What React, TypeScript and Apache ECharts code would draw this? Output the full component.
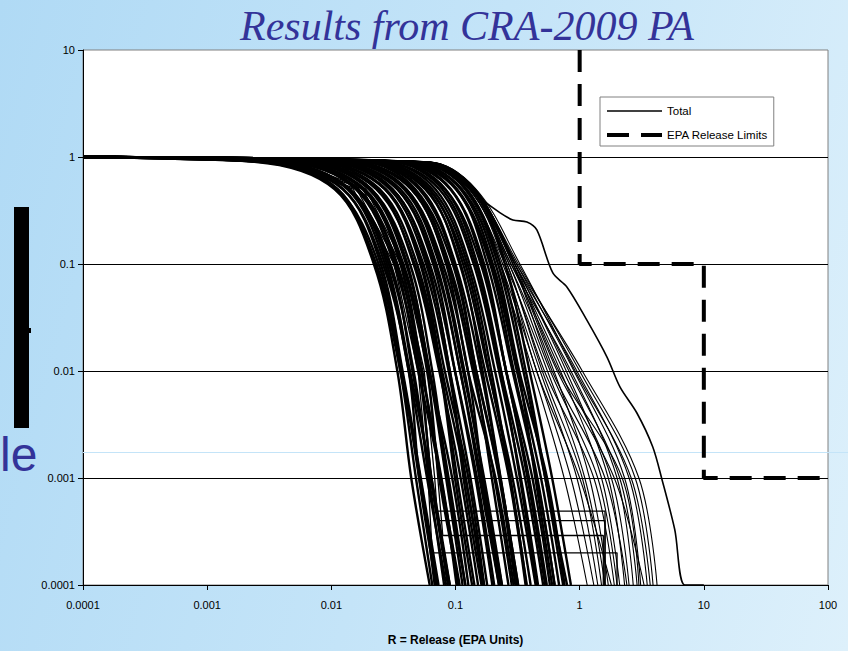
import React, { useEffect, useRef } from "react";
import * as echarts from "echarts";

const TITLE = "Results from CRA-2009 PA";
const X_AXIS_NAME = "R = Release (EPA Units)";
const X_TICK_LABELS = ["0.0001", "0.001", "0.01", "0.1", "1", "10", "100"];
const Y_TICK_LABELS = ["0.0001", "0.001", "0.01", "0.1", "1", "10"];
const LEGEND_TOTAL = "Total";
const LEGEND_EPA = "EPA Release Limits";
const SIDE_TEXT = "le";

// every realization starts at probability 1 at the left edge
const START_R = 0.0001;
// probability levels at which each CCDF's release is read
const PROB_LEVELS = [1, 0.9, 0.5, 0.1, 0.01, 0.001, 0.0001];

// release R where each realization crosses 0.9, 0.5, 0.1, 0.01, 0.001, 0.0001
const DENSE_CURVES = [
  [0.0024, 0.0106, 0.022, 0.034, 0.044, 0.062],
  [0.0028, 0.0108, 0.023, 0.037, 0.051, 0.071],
  [0.0028, 0.0123, 0.025, 0.0375, 0.0525, 0.073],
  [0.0034, 0.0125, 0.026, 0.042, 0.051, 0.07],
  [0.0034, 0.014, 0.028, 0.043, 0.064, 0.09],
  [0.0036, 0.0141, 0.03, 0.045, 0.063, 0.087],
  [0.0042, 0.0157, 0.032, 0.051, 0.064, 0.09],
  [0.0041, 0.0163, 0.034, 0.053, 0.077, 0.105],
  [0.005, 0.018, 0.036, 0.054, 0.076, 0.108],
  [0.0049, 0.0186, 0.038, 0.061, 0.084, 0.114],
  [0.0056, 0.02, 0.04, 0.062, 0.088, 0.12],
  [0.0065, 0.021, 0.043, 0.065, 0.086, 0.12],
  [0.006, 0.0235, 0.046, 0.074, 0.11, 0.152],
  [0.0074, 0.0245, 0.049, 0.076, 0.103, 0.142],
  [0.0083, 0.027, 0.052, 0.078, 0.12, 0.166],
  [0.0077, 0.027, 0.055, 0.088, 0.121, 0.17],
  [0.0093, 0.0296, 0.058, 0.09, 0.116, 0.162],
  [0.0093, 0.031, 0.062, 0.099, 0.149, 0.205],
  [0.0112, 0.034, 0.066, 0.099, 0.145, 0.198],
  [0.0112, 0.036, 0.07, 0.109, 0.161, 0.224],
  [0.0126, 0.0385, 0.074, 0.115, 0.17, 0.237],
  [0.0126, 0.04, 0.079, 0.126, 0.166, 0.229],
  [0.0151, 0.0445, 0.084, 0.126, 0.21, 0.294],
  [0.0151, 0.046, 0.089, 0.142, 0.196, 0.267],
  [0.018, 0.0475, 0.095, 0.147, 0.228, 0.314],
  [0.018, 0.053, 0.1, 0.16, 0.23, 0.32],
  [0.0187, 0.057, 0.11, 0.165, 0.231, 0.319],
  [0.022, 0.062, 0.115, 0.184, 0.288, 0.403],
  [0.0216, 0.061, 0.12, 0.186, 0.276, 0.372],
  [0.026, 0.069, 0.13, 0.208, 0.312, 0.442],
  [0.0266, 0.074, 0.14, 0.224, 0.336, 0.462],
  [0.0315, 0.0825, 0.15, 0.233, 0.33, 0.45],
  [0.032, 0.083, 0.16, 0.256, 0.416, 0.576],
  [0.0374, 0.092, 0.17, 0.255, 0.391, 0.544],
  [0.036, 0.101, 0.18, 0.288, 0.45, 0.63],
  [0.04, 0.101, 0.19, 0.295, 0.456, 0.627],
  [0.044, 0.11, 0.2, 0.32, 0.44, 0.6],
  [0.042, 0.113, 0.21, 0.326, 0.546, 0.756],
  [0.0506, 0.122, 0.23, 0.368, 0.529, 0.736],
  [0.0525, 0.1375, 0.25, 0.395, 0.6, 0.85],
  [0.0029, 0.0113, 0.0225, 0.036, 0.052, 0.068],
  [0.0026, 0.011, 0.024, 0.036, 0.048, 0.065],
  [0.0038, 0.0135, 0.027, 0.042, 0.059, 0.084],
  [0.0032, 0.0136, 0.029, 0.046, 0.061, 0.081],
  [0.0043, 0.0165, 0.033, 0.05, 0.076, 0.102],
  [0.0044, 0.0178, 0.037, 0.059, 0.074, 0.107],
  [0.0062, 0.0209, 0.041, 0.0615, 0.094, 0.127],
  [0.0066, 0.023, 0.047, 0.075, 0.099, 0.136],
  [0.008, 0.0275, 0.053, 0.082, 0.127, 0.17],
  [0.0102, 0.0312, 0.06, 0.09, 0.132, 0.18],
  [0.0102, 0.034, 0.068, 0.109, 0.156, 0.224],
  [0.0137, 0.0403, 0.076, 0.118, 0.167, 0.236],
  [0.0146, 0.0439, 0.086, 0.138, 0.206, 0.284],
  [0.0186, 0.051, 0.098, 0.147, 0.225, 0.304],
  [0.0194, 0.0583, 0.108, 0.173, 0.27, 0.367],
  [0.0238, 0.065, 0.125, 0.194, 0.275, 0.375],
  [0.0305, 0.0783, 0.145, 0.232, 0.363, 0.508],
  [0.033, 0.0908, 0.165, 0.256, 0.38, 0.528],
  [0.0429, 0.103, 0.195, 0.312, 0.488, 0.683],
  [0.0462, 0.121, 0.22, 0.352, 0.528, 0.792],
];

// realizations that fan out to larger releases in the tail
const FAN_CURVES = [
  [0.05, 0.118, 0.22, 0.42, 0.75, 1.15],
  [0.052, 0.125, 0.24, 0.48, 0.95, 1.4],
  [0.048, 0.12, 0.25, 0.55, 1.1, 1.6],
  [0.055, 0.13, 0.26, 0.52, 1.3, 1.9],
  [0.053, 0.128, 0.27, 0.62, 1.2, 1.7],
  [0.056, 0.135, 0.28, 0.7, 1.5, 2.1],
  [0.054, 0.132, 0.29, 0.6, 1.6, 2.4],
  [0.058, 0.14, 0.3, 0.78, 1.7, 2.3],
  [0.057, 0.138, 0.28, 0.85, 2.0, 2.7],
  [0.059, 0.142, 0.31, 0.9, 2.3, 3.1],
  [0.06, 0.145, 0.3, 0.95, 2.5, 3.5],
  [0.058, 0.14, 0.32, 1.0, 2.8, 3.9],
  [0.06, 0.143, 0.31, 1.05, 3.0, 4.2],
  [0.057, 0.137, 0.29, 0.66, 1.9, 3.3],
  [0.051, 0.122, 0.23, 0.45, 0.85, 1.3],
  [0.055, 0.133, 0.27, 0.58, 1.4, 2.0],
  [0.057, 0.139, 0.29, 0.74, 1.8, 2.5],
  [0.059, 0.141, 0.3, 0.82, 2.1, 2.9],
  [0.056, 0.134, 0.26, 0.5, 1.05, 1.5],
  [0.06, 0.146, 0.33, 0.92, 2.6, 3.7],
  [0.058, 0.14, 0.3, 0.68, 2.2, 3.0],
  [0.054, 0.13, 0.25, 0.45, 1.0, 1.8],
];

// realizations whose tail stays flat at a small probability before dropping
// R at 0.9, 0.5, 0.1, 0.01, 0.001 and where the flat step begins
const STEP_CURVES = [
  [0.004, 0.016, 0.034, 0.053, 0.064, 0.069],
  [0.0045, 0.018, 0.036, 0.056, 0.068, 0.072],
  [0.005, 0.019, 0.038, 0.06, 0.072, 0.079],
  [0.0038, 0.015, 0.032, 0.05, 0.06, 0.065],
];
const STEP_FLAT_P = [0.00049, 0.0004, 0.00029, 0.0002];
const STEP_END_R = [1.6, 1.6, 1.55, 2.0];

// the single realization well to the right of the bundle
const OUTLIER_R = [0.0001, 0.014, 0.052, 0.1, 0.158, 0.229, 0.29, 0.376, 0.452, 0.608, 0.789, 1.14, 1.66, 2.11, 2.89, 3.88, 4.59, 5.83, 7.03, 10];
const OUTLIER_P = [1, 0.95, 0.87, 0.68, 0.414, 0.3, 0.258, 0.247, 0.208, 0.0824, 0.061, 0.03, 0.0135, 0.0071, 0.00405, 0.00195, 0.00098, 0.00033, 0.0001, 0.0001];

// EPA release limits (step)
const EPA_R = [1, 1, 10, 10, 100];
const EPA_P = [10, 0.1, 0.1, 0.001, 0.001];

const SANS = '"Liberation Sans", Arial, sans-serif';

function levelCurve(row: number[]) {
  const pts: number[][] = [[START_R, PROB_LEVELS[0]]];
  row.forEach((r, i) => pts.push([r, PROB_LEVELS[i + 1]]));
  return pts;
}

function stepCurve(row: number[], flatP: number, endR: number) {
  const pts: number[][] = [[START_R, PROB_LEVELS[0]]];
  for (let i = 0; i < 5; i++) pts.push([row[i], PROB_LEVELS[i + 1]]);
  pts.push([row[5], flatP]);
  pts.push([endR, flatP]);
  pts.push([endR, PROB_LEVELS[PROB_LEVELS.length - 1]]);
  return pts;
}

function pairs(xs: number[], ys: number[]) {
  return xs.map((x, i) => [x, ys[i]]);
}

function curveSeries(name: string, data: number[][], width: number, smooth: number | boolean) {
  return {
    type: "line",
    name,
    data,
    symbol: "none",
    showSymbol: false,
    smooth,
    silent: true,
    clip: true,
    lineStyle: { color: "#000", width },
    z: 2,
  };
}

function buildOption() {
  const series: any[] = [];
  series.push(curveSeries(LEGEND_TOTAL, pairs(OUTLIER_R, OUTLIER_P), 1.6, 0.3));
  DENSE_CURVES.forEach((row) => series.push(curveSeries(LEGEND_TOTAL, levelCurve(row), 2.4, 0.35)));
  FAN_CURVES.forEach((row) => series.push(curveSeries(LEGEND_TOTAL, levelCurve(row), 1.1, 0.35)));
  STEP_CURVES.forEach((row, i) =>
    series.push(curveSeries(LEGEND_TOTAL, stepCurve(row, STEP_FLAT_P[i], STEP_END_R[i]), 1.3, false))
  );
  series.push({
    type: "line",
    name: LEGEND_EPA,
    data: pairs(EPA_R, EPA_P),
    symbol: "none",
    showSymbol: false,
    silent: true,
    lineStyle: { color: "#000", width: 4, type: [22, 12], cap: "butt" },
    z: 3,
  });

  return {
    animation: false,
    backgroundColor: "transparent",
    title: {
      text: TITLE,
      left: 240,
      top: 5,
      padding: 0,
      textStyle: {
        fontFamily: '"Liberation Serif", "Times New Roman", serif',
        fontStyle: "italic",
        fontWeight: "normal",
        fontSize: 42,
        color: "#333399",
      },
    },
    legend: {
      data: [LEGEND_TOTAL, LEGEND_EPA],
      orient: "vertical",
      left: 600,
      top: 97,
      itemWidth: 55,
      itemHeight: 14,
      itemGap: 12,
      itemTextGap: 7,
      padding: [8, 6, 5, 5],
      backgroundColor: "#fff",
      borderColor: "#808080",
      borderWidth: 1,
      borderRadius: 0,
      selectedMode: false,
      itemStyle: { opacity: 0 },
      lineStyle: { width: "inherit" },
      textStyle: { fontFamily: SANS, fontSize: 11.5, color: "#000" },
    },
    grid: {
      left: 83,
      right: 20,
      top: 50,
      bottom: 66,
      outerBoundsMode: "none",
      containLabel: false,
      show: true,
      backgroundColor: "#fff",
      borderColor: "#808080",
      borderWidth: 1,
    },
    xAxis: {
      type: "log",
      logBase: 10,
      min: 0.0001,
      max: 100,
      name: X_AXIS_NAME,
      nameLocation: "middle",
      nameGap: 49,
      nameTextStyle: { fontFamily: SANS, fontWeight: "bold", fontSize: 12, color: "#000" },
      axisLine: { show: true, onZero: false, lineStyle: { color: "#000", width: 1 } },
      axisTick: { show: true, length: 5, lineStyle: { color: "#000" } },
      minorTick: { show: false },
      splitLine: { show: false },
      axisLabel: {
        margin: 14,
        fontFamily: SANS,
        fontSize: 11,
        color: "#000",
        formatter: (v: number) => X_TICK_LABELS[Math.round(Math.log10(v)) + 4] ?? "",
      },
    },
    yAxis: {
      type: "log",
      logBase: 10,
      min: 0.0001,
      max: 10,
      axisLine: { show: true, onZero: false, lineStyle: { color: "#000", width: 1 } },
      axisTick: { show: true, length: 5, lineStyle: { color: "#000" } },
      minorTick: { show: false },
      splitLine: { show: true, showMaxLine: false, lineStyle: { color: "#000", width: 1 } },
      axisLabel: {
        margin: 8,
        fontFamily: SANS,
        fontSize: 11,
        color: "#000",
        formatter: (v: number) => Y_TICK_LABELS[Math.round(Math.log10(v)) + 4] ?? "",
      },
    },
    graphic: [
      { type: "rect", shape: { x: 14, y: 207, width: 15, height: 221 }, style: { fill: "#000" }, z: 1 },
      { type: "rect", shape: { x: 29, y: 328, width: 2, height: 5 }, style: { fill: "#000" }, z: 1 },
      {
        type: "text",
        x: 0,
        y: 454,
        style: {
          text: SIDE_TEXT,
          fontFamily: SANS,
          fontSize: 48,
          fill: "#333399",
          align: "left",
          verticalAlign: "middle",
        },
        z: 1,
      },
      {
        type: "line",
        shape: { x1: 83, y1: 452.5, x2: 848, y2: 452.5 },
        style: { stroke: "#c4e4f8", lineWidth: 1 },
        z: 1,
      },
    ],
    series,
  };
}

export default function App() {
  const ref = useRef<HTMLDivElement>(null);
  useEffect(() => {
    if (!ref.current) return;
    const chart = echarts.init(ref.current, undefined, { renderer: "svg" });
    chart.setOption(buildOption() as any);
    return () => chart.dispose();
  }, []);
  return (
    <div
      style={{
        position: "absolute",
        left: 0,
        top: 0,
        width: 848,
        height: 651,
        background: "linear-gradient(105deg, #b0daf5 0%, #c4e4f8 50%, #ddf0fb 100%)",
      }}
    >
      <div ref={ref} style={{ width: 848, height: 651 }} />
    </div>
  );
}
